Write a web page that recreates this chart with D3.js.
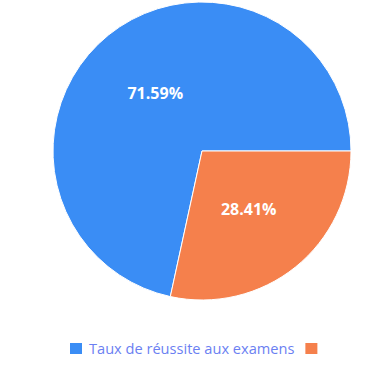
<!DOCTYPE html>
<html><head><meta charset="utf-8">
<script src="https://cdn.jsdelivr.net/npm/d3@7"></script>
<style>html,body{margin:0;padding:0;background:#fff;}svg{display:block;}</style>
</head><body>
<svg id="c" width="378" height="367"></svg>
<script>
const categories = ["Taux de réussite aux examens", ""];
const values = [71.59, 28.41];
const colors = ["#3a8df5", "#f5804c"];

const svg = d3.select("#c");
const cx = 202, cy = 151, r = 149;
const startA = Math.PI / 2 + (values[1] / 100) * 2 * Math.PI;
const pie = d3.pie().sort(null).value(d => d).startAngle(startA).endAngle(startA + 2 * Math.PI);
const arcs = pie(values);
const arc = d3.arc().innerRadius(0).outerRadius(r);
const labelArc = d3.arc().innerRadius(0).outerRadius(r);

const g = svg.append("g").attr("transform", `translate(${cx},${cy})`);
g.selectAll("path").data(arcs).enter().append("path")
  .attr("d", arc).attr("fill", (d, i) => colors[i])
  .attr("stroke", "#fff").attr("stroke-width", 1);
g.selectAll("text").data(arcs).enter().append("text")
  .attr("transform", d => `translate(${labelArc.centroid(d)})`)
  .attr("text-anchor", "middle").attr("dy", "0.35em")
  .attr("fill", "#fff").attr("font-family", "'Open Sans', sans-serif")
  .attr("font-weight", "bold").attr("font-size", 16)
  .text(d => d.data.toFixed(2) + "%");

const leg = svg.append("g").attr("font-family", "'Open Sans', sans-serif").attr("font-size", 14.6);
let x = 70;
categories.forEach((c, i) => {
  leg.append("rect").attr("x", x).attr("y", 343).attr("width", 12).attr("height", 11).attr("fill", colors[i]);
  x += 19;
  if (c) {
    const t = leg.append("text").attr("x", x).attr("y", 353.5).attr("fill", "#6b7ff2").text(c);
    x += t.node().getComputedTextLength() + 11;
  }
});
</script>
</body></html>
